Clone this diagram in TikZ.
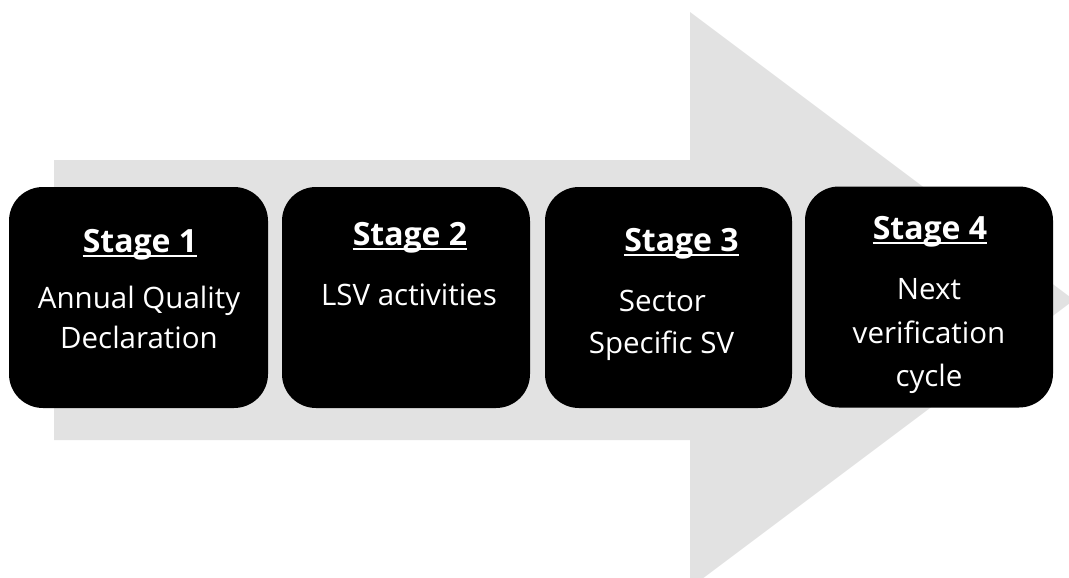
\documentclass[tikz,border=0pt]{standalone}
\usepackage{fontspec}
\setmainfont{Open Sans}
\usepackage{tikz}
\definecolor{arrowgray}{RGB}{226,226,226}
\tikzstyle{stagebox}=[fill=black, rounded corners=34pt, minimum height=221pt, inner sep=0pt]
\tikzstyle{stagetitle}=[text=white, font=\fontsize{32}{38}\selectfont\bfseries, inner sep=0pt, anchor=base]
\tikzstyle{stagetext}=[text=white, font=\fontsize{29.5}{35}\selectfont, inner sep=0pt, anchor=base]

\begin{document}
\begin{tikzpicture}[x=1pt,y=-1pt]
\useasboundingbox (0,0) rectangle (1069,578);
\fill[arrowgray] (54,160) -- (690,160) -- (690,12) -- (1074,300) -- (690,588) -- (690,440) -- (54,440) -- cycle;
\node[stagebox, minimum width=259pt] (s1) at (138.5,297.5) {};
\node[stagebox, minimum width=248pt] (s2) at (406,297.5) {};
\node[stagebox, minimum width=247pt] (s3) at (668.5,297.5) {};
\node[stagebox, minimum width=248pt] (s4) at (929,297) {};
\node[stagetitle] (t1) at (140,252) {Stage 1};
\node[stagetext] (s1a) at (139,308) {Annual Quality};
\node[stagetext] (s1b) at (139,348) {Declaration};
\node[stagetitle] (t2) at (410,245) {Stage 2};
\node[stagetext] (s2a) at (409,305) {LSV activities};
\node[stagetitle] (t3) at (681.5,251) {Stage 3};
\node[stagetext] (s3a) at (662.5,311) {Sector};
\node[stagetext] (s3b) at (661.5,353) {Specific SV};
\node[stagetitle] (t4) at (930,239) {Stage 4};
\node[stagetext] (s4a) at (929,299) {Next};
\node[stagetext] (s4b) at (929,343) {verification};
\node[stagetext] (s4c) at (929,386) {cycle};
\foreach \i in {1,...,4}
  \draw[white, line width=2pt] ([yshift=-3.5pt]t\i.base west) -- ([yshift=-3.5pt]t\i.base east);
\end{tikzpicture}
\end{document}
